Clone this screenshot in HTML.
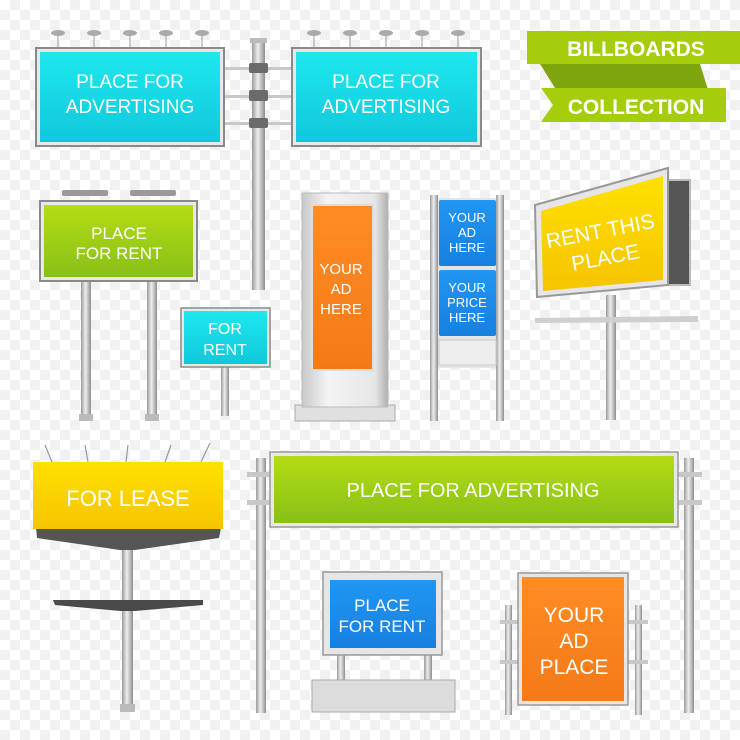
<!DOCTYPE html>
<html><head><meta charset="utf-8"><style>
html,body{margin:0;padding:0;}
body{width:740px;height:740px;overflow:hidden;background-color:#fff;background-image:linear-gradient(45deg,#f1f1f1 25%,transparent 25%,transparent 75%,#f1f1f1 75%),linear-gradient(45deg,#f1f1f1 25%,transparent 25%,transparent 75%,#f1f1f1 75%);background-size:20px 20px;background-position:0 0,10px 10px;}
svg{position:absolute;left:0;top:0;}
text{font-family:"Liberation Sans",sans-serif;fill:#fff;text-anchor:middle;}
</style></head><body>
<svg width="740" height="740" viewBox="0 0 740 740">
<defs>
<linearGradient id="pole" x1="0" x2="1"><stop offset="0" stop-color="#9a9a9a"/><stop offset=".45" stop-color="#eeeeee"/><stop offset="1" stop-color="#8e8e8e"/></linearGradient>
<linearGradient id="kio" x1="0" x2="1"><stop offset="0" stop-color="#c8c8c8"/><stop offset=".3" stop-color="#f4f4f4"/><stop offset=".85" stop-color="#e6e6e6"/><stop offset="1" stop-color="#b0b0b0"/></linearGradient>
<linearGradient id="cy" x1="0" y1="0" x2="0" y2="1"><stop offset="0" stop-color="#1ee8ee"/><stop offset="1" stop-color="#10c8dc"/></linearGradient>
<linearGradient id="gr" x1="0" y1="0" x2="0" y2="1"><stop offset="0" stop-color="#b4dc14"/><stop offset="1" stop-color="#88c018"/></linearGradient>
<linearGradient id="ye" x1="0" y1="0" x2="0" y2="1"><stop offset="0" stop-color="#ffe100"/><stop offset="1" stop-color="#f5c400"/></linearGradient>
<linearGradient id="or" x1="0" y1="0" x2="0" y2="1"><stop offset="0" stop-color="#ff8c24"/><stop offset="1" stop-color="#f47a18"/></linearGradient>
<linearGradient id="bl" x1="0" y1="0" x2="0" y2="1"><stop offset="0" stop-color="#2196f3"/><stop offset="1" stop-color="#1680e0"/></linearGradient>
</defs>

<!-- top double billboard -->
<rect x="252" y="40" width="13" height="250" fill="url(#pole)"/>
<rect x="250" y="38" width="17" height="5" fill="#bbb"/>
<g fill="#c8c8c8"><rect x="222" y="67" width="72" height="3"/><rect x="222" y="95" width="72" height="3"/><rect x="222" y="122" width="72" height="3"/></g>
<g fill="#6b6b6b"><rect x="249" y="63" width="19" height="10" rx="2"/><rect x="249" y="90" width="19" height="11" rx="2"/><rect x="249" y="118" width="19" height="10" rx="2"/></g>
<g stroke="#bbb" stroke-width="1.5"><line x1="58" y1="34" x2="58" y2="48"/><line x1="94" y1="34" x2="94" y2="48"/><line x1="130" y1="34" x2="130" y2="48"/><line x1="166" y1="34" x2="166" y2="48"/><line x1="202" y1="34" x2="202" y2="48"/>
<line x1="314" y1="34" x2="314" y2="48"/><line x1="350" y1="34" x2="350" y2="48"/><line x1="386" y1="34" x2="386" y2="48"/><line x1="422" y1="34" x2="422" y2="48"/><line x1="458" y1="34" x2="458" y2="48"/></g>
<g fill="#aaa"><ellipse cx="58" cy="33" rx="7" ry="3"/><ellipse cx="94" cy="33" rx="7" ry="3"/><ellipse cx="130" cy="33" rx="7" ry="3"/><ellipse cx="166" cy="33" rx="7" ry="3"/><ellipse cx="202" cy="33" rx="7" ry="3"/>
<ellipse cx="314" cy="33" rx="7" ry="3"/><ellipse cx="350" cy="33" rx="7" ry="3"/><ellipse cx="386" cy="33" rx="7" ry="3"/><ellipse cx="422" cy="33" rx="7" ry="3"/><ellipse cx="458" cy="33" rx="7" ry="3"/></g>
<rect x="36" y="48" width="188" height="98" fill="#e8e8e8" stroke="#8a8a8a" stroke-width="2"/>
<rect x="40" y="52" width="180" height="90" fill="url(#cy)"/>
<text x="130" y="88" font-size="19">PLACE FOR</text><text x="130" y="113" font-size="19">ADVERTISING</text>
<rect x="292" y="48" width="189" height="98" fill="#e8e8e8" stroke="#8a8a8a" stroke-width="2"/>
<rect x="296" y="52" width="181" height="90" fill="url(#cy)"/>
<text x="386" y="88" font-size="19">PLACE FOR</text><text x="386" y="113" font-size="19">ADVERTISING</text>

<!-- ribbon -->
<polygon points="540,64 700,64 710,96 560,96" fill="#7fa50e"/>
<polygon points="541,88 726,88 726,122 541,122 553,105" fill="#a5cd0c"/>
<rect x="527" y="31" width="213" height="33" fill="#a5cd0c"/>
<text x="636" y="56" font-size="21" font-weight="bold">BILLBOARDS</text>
<text x="636" y="114" font-size="21" font-weight="bold">COLLECTION</text>

<!-- green sign -->
<rect x="81" y="280" width="10" height="140" fill="url(#pole)"/><rect x="147" y="280" width="10" height="140" fill="url(#pole)"/>
<rect x="79" y="414" width="14" height="7" fill="#bbb"/><rect x="145" y="414" width="14" height="7" fill="#bbb"/>
<rect x="62" y="190" width="46" height="6" rx="2" fill="#999"/><rect x="130" y="190" width="46" height="6" rx="2" fill="#999"/>
<rect x="40" y="201" width="157" height="80" fill="#e8e8e8" stroke="#8a8a8a" stroke-width="2"/>
<rect x="44" y="205" width="149" height="72" fill="url(#gr)"/>
<text x="119" y="239" font-size="17">PLACE</text><text x="119" y="259" font-size="17">FOR RENT</text>

<!-- small cyan -->
<rect x="221" y="366" width="8" height="50" fill="url(#pole)"/>
<rect x="181" y="308" width="89" height="59" fill="#e8e8e8" stroke="#8a8a8a" stroke-width="1.5"/>
<rect x="184" y="311" width="83" height="53" fill="url(#cy)"/>
<text x="225" y="334" font-size="16">FOR</text><text x="225" y="355" font-size="16">RENT</text>

<!-- orange kiosk -->
<rect x="295" y="405" width="100" height="16" fill="#e0e0e0" stroke="#aaa"/>
<rect x="302" y="193" width="86" height="214" fill="url(#kio)" stroke="#bbb"/>
<rect x="312" y="205" width="61" height="165" fill="url(#or)" stroke="#ddd" stroke-width="2"/>
<text x="341" y="274" font-size="15">YOUR</text><text x="341" y="294" font-size="15">AD</text><text x="341" y="314" font-size="15">HERE</text>

<!-- blue stand -->
<rect x="430" y="195" width="8" height="226" fill="url(#pole)"/><rect x="496" y="195" width="8" height="226" fill="url(#pole)"/>
<rect x="438" y="198" width="58" height="170" fill="#e4e4e4"/>
<rect x="439" y="200" width="57" height="66" fill="url(#bl)" rx="2"/>
<rect x="439" y="270" width="57" height="66" fill="url(#bl)" rx="2"/>
<rect x="439" y="340" width="57" height="25" fill="#eee" stroke="#ccc"/>
<text x="467" y="222" font-size="13">YOUR</text><text x="467" y="237" font-size="13">AD</text><text x="467" y="252" font-size="13">HERE</text>
<text x="467" y="292" font-size="13">YOUR</text><text x="467" y="307" font-size="13">PRICE</text><text x="467" y="322" font-size="13">HERE</text>

<!-- yellow angled -->
<rect x="606" y="295" width="10" height="125" fill="url(#pole)"/>
<polygon points="535,318 698,316 698,322 535,323" fill="#cfcfcf"/>
<polygon points="668,180 690,180 690,285 668,285" fill="#555" stroke="#bbb" stroke-width="2"/>
<polygon points="535,205 668,168 668,285 537,297" fill="#e6e6e6" stroke="#999" stroke-width="2"/>
<polygon points="541,211 663,176 663,280 543,291" fill="url(#ye)"/>
<g transform="rotate(-11 602 240)"><text x="602" y="238" font-size="21">RENT THIS</text><text x="602" y="265" font-size="21">PLACE</text></g>

<!-- for lease -->
<rect x="122" y="540" width="11" height="170" fill="url(#pole)"/><rect x="120" y="704" width="15" height="8" fill="#bbb"/>
<polygon points="53,600 203,600 203,605 135,611 120,611 55,605" fill="#4a4a4a"/>
<polygon points="36,528 221,528 219,538 135,550 120,550 37,538" fill="#555"/>
<g stroke="#999" stroke-width="1.2"><line x1="45" y1="445" x2="52" y2="462"/><line x1="85" y1="445" x2="88" y2="462"/><line x1="128" y1="445" x2="126" y2="462"/><line x1="171" y1="445" x2="165" y2="462"/><line x1="210" y1="443" x2="201" y2="462"/></g>
<rect x="33" y="462" width="190" height="67" fill="url(#ye)"/>
<text x="128" y="506" font-size="22">FOR LEASE</text>

<!-- long green banner -->
<rect x="256" y="458" width="10" height="255" fill="url(#pole)"/><rect x="684" y="458" width="10" height="255" fill="url(#pole)"/>
<g fill="#c8c8c8"><rect x="247" y="472" width="25" height="5"/><rect x="247" y="500" width="25" height="5"/><rect x="677" y="472" width="25" height="5"/><rect x="677" y="500" width="25" height="5"/></g>
<rect x="270" y="452" width="408" height="75" fill="#e8e8e8" stroke="#999" stroke-width="1.5"/>
<rect x="274" y="456" width="400" height="67" fill="url(#gr)"/>
<text x="473" y="497" font-size="20">PLACE FOR ADVERTISING</text>

<!-- blue monitor -->
<rect x="337" y="652" width="8" height="30" fill="url(#pole)"/><rect x="424" y="652" width="8" height="30" fill="url(#pole)"/>
<rect x="312" y="680" width="143" height="32" fill="#dcdcdc" stroke="#aaa"/>
<rect x="323" y="572" width="119" height="83" fill="#e6e6e6" stroke="#999" stroke-width="1.5"/>
<rect x="330" y="580" width="106" height="68" fill="url(#bl)"/>
<text x="382" y="611" font-size="17">PLACE</text><text x="382" y="632" font-size="17">FOR RENT</text>

<!-- orange place -->
<rect x="505" y="605" width="7" height="110" fill="url(#pole)"/><rect x="635" y="605" width="7" height="110" fill="url(#pole)"/>
<g fill="#c8c8c8"><rect x="500" y="620" width="20" height="4"/><rect x="500" y="660" width="20" height="4"/><rect x="628" y="620" width="20" height="4"/><rect x="628" y="660" width="20" height="4"/></g>
<rect x="518" y="573" width="110" height="132" fill="#e6e6e6" stroke="#999" stroke-width="1.5"/>
<rect x="522" y="577" width="102" height="124" fill="url(#or)"/>
<text x="574" y="622" font-size="21">YOUR</text><text x="574" y="648" font-size="21">AD</text><text x="574" y="674" font-size="21">PLACE</text>
</svg>
</body></html>
